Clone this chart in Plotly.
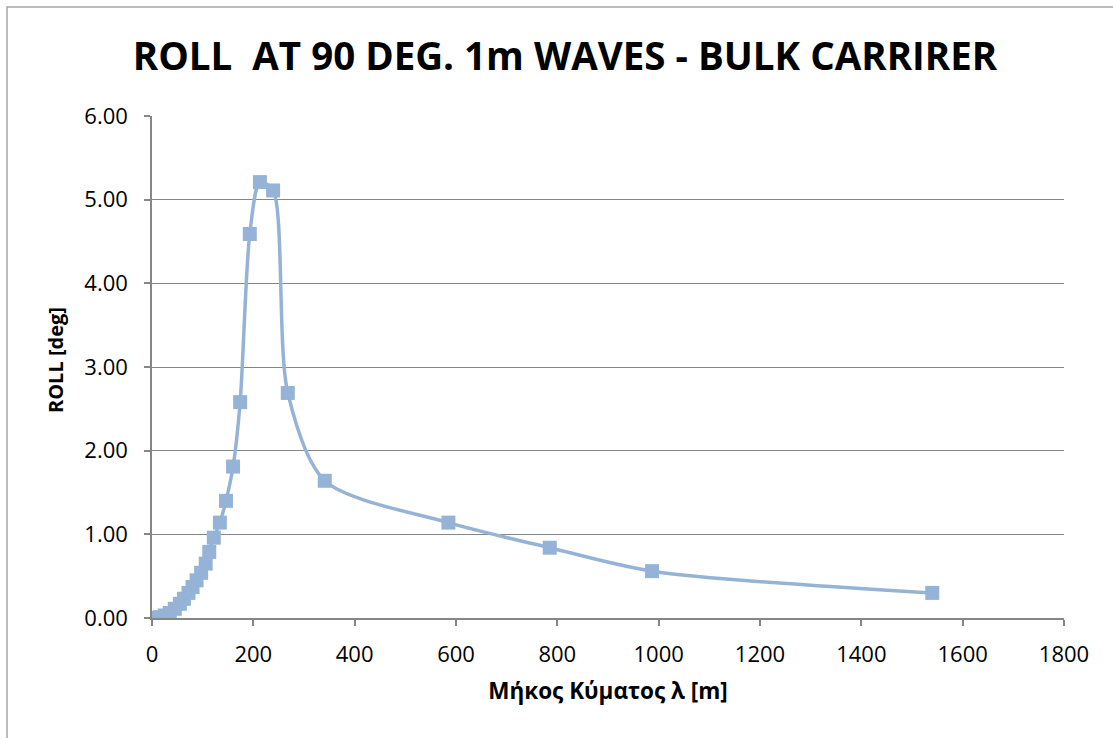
import plotly.graph_objects as go

# Wave length λ [m] and roll amplitude [deg]
wave_length = [5, 15, 25, 35, 45, 55, 63, 72, 80, 88, 97, 106, 113, 122, 134, 146,
               160, 174, 193, 213, 239, 268, 341, 585, 785, 987, 1540]
roll_deg = [0.00, 0.01, 0.03, 0.06, 0.11, 0.17, 0.23, 0.30, 0.37, 0.45, 0.54, 0.65,
            0.79, 0.96, 1.14, 1.40, 1.81, 2.58, 4.59, 5.21, 5.11, 2.69, 1.64, 1.14,
            0.84, 0.56, 0.30]

x_ticks = [0, 200, 400, 600, 800, 1000, 1200, 1400, 1600, 1800]
y_ticks = [0, 1, 2, 3, 4, 5, 6]

W, H = 1113, 738
L, R, T, B = 152, 49, 116, 120
pw, ph = W - L - R, H - T - B

series_color = "#95B3D7"
axis_grey = "#868686"
font_family = "'Open Sans', sans-serif"

fig = go.Figure()
fig.add_trace(go.Scatter(
    x=wave_length, y=roll_deg,
    mode="lines+markers",
    line=dict(color=series_color, width=3.5, shape="spline", smoothing=0.8),
    marker=dict(symbol="square", size=14, color=series_color),
    showlegend=False,
))

# outer chart border (runs past the right and bottom edges)
fig.add_shape(type="rect", xref="paper", yref="paper",
              x0=(7 - L) / pw, x1=(W + 20 - L) / pw,
              y0=-(B + 20) / ph, y1=(H - B - 7) / ph,
              line=dict(color="#A6A6A6", width=1.5), layer="below")

# vertical axis title
fig.add_annotation(text="<b>ROLL [deg]</b>", textangle=-90,
                   xref="paper", yref="paper",
                   x=(55 - L) / pw, y=(H - B - 360) / ph,
                   xanchor="center", yanchor="middle", showarrow=False,
                   font=dict(size=20, family=font_family, color="black"))

fig.update_layout(
    width=W, height=H,
    margin=dict(l=L, r=R, t=T, b=B, autoexpand=False),
    paper_bgcolor="white", plot_bgcolor="white",
    font=dict(family=font_family, size=22, color="black"),
    title=dict(text="<b>ROLL  AT 90 DEG. 1m WAVES - BULK CARRIRER</b>",
               x=565 / W, xanchor="center", xref="container",
               y=(H - 57) / H, yanchor="middle",
               font=dict(size=38.5, family=font_family, color="black")),
    xaxis=dict(
        range=[0, 1800], tickvals=x_ticks, ticktext=[str(v) for v in x_ticks],
        showgrid=False, zeroline=False,
        showline=True, linecolor=axis_grey, linewidth=1.5,
        ticks="outside", ticklen=6, tickcolor=axis_grey, tickwidth=1.5,
        tickfont=dict(size=22), ticklabelstandoff=10,
        title=dict(text="<b>Μήκος Κύματος λ [m]</b>", font=dict(size=22.5), standoff=16),
    ),
    yaxis=dict(
        range=[0, 6], tickvals=y_ticks, ticktext=[f"{v:.2f}" for v in y_ticks],
        showgrid=True, gridcolor=axis_grey, gridwidth=1.2, zeroline=False,
        showline=True, linecolor=axis_grey, linewidth=1.5,
        ticks="outside", ticklen=6, tickcolor=axis_grey, tickwidth=1.5,
        tickfont=dict(size=22), ticklabelstandoff=12,
    ),
)

fig.write_html("out.html")
